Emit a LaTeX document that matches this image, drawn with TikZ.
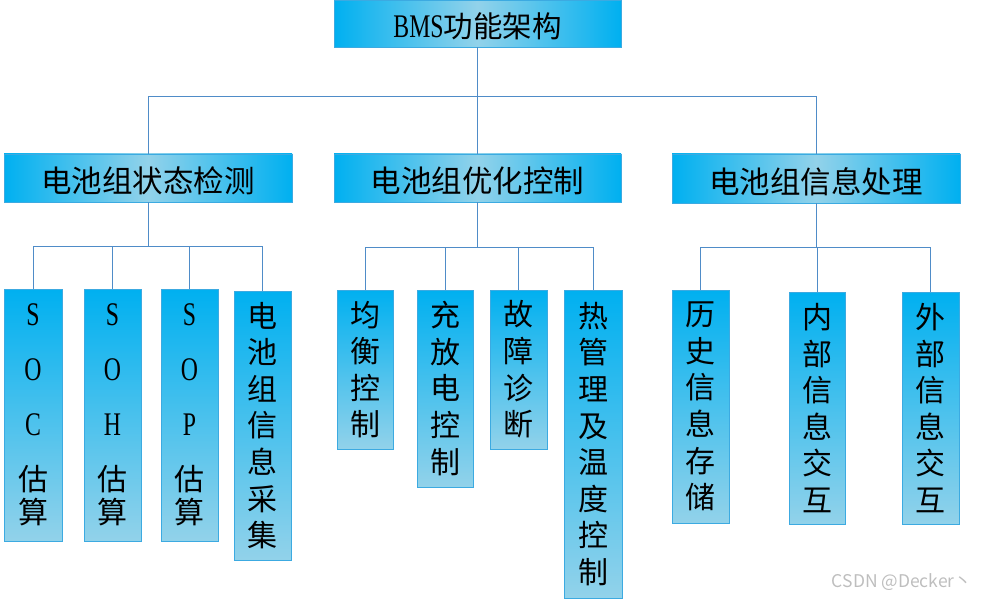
\documentclass[tikz,border=0pt]{standalone}
\usepackage{fontspec}
\setmainfont{Noto Sans CJK SC}
\newfontfamily\cjk{Noto Sans CJK SC}
\newfontfamily\lat[FakeStretch=0.72]{Liberation Serif}
\definecolor{cdark}{RGB}{0,176,240}
\definecolor{clight}{RGB}{146,210,234}
\definecolor{bordercol}{RGB}{60,170,225}
\definecolor{linecol}{RGB}{79,140,200}
\definecolor{wmcol}{RGB}{190,190,190}
\newcommand{\latl}[1]{{\fontsize{33pt}{33pt}\selectfont\lat #1}}
\newcommand{\lowr}[1]{\raisebox{-3pt}[\height][\depth]{#1}}
\tikzset{
  box/.style={rectangle, inner sep=0pt, draw=bordercol, line width=0.8pt, text=black},
  hbox/.style={box, left color=cdark, right color=cdark, middle color=clight},
  vbox/.style={box, top color=cdark, bottom color=clight, align=center},
  leaftext/.style={font=\fontsize{30pt}{36.6pt}\selectfont\cjk},
  soctext/.style={font=\fontsize{30pt}{33pt}\selectfont\cjk},
  midtext/.style={font=\fontsize{30.5pt}{32pt}\selectfont\cjk},
  conn/.style={draw=linecol, line width=0.8pt},
}
\begin{document}
\begin{tikzpicture}[x=1pt,y=-1pt]
\useasboundingbox (0,0) rectangle (983,599);
% top
\node[hbox, minimum width=287pt, minimum height=47pt, font=\fontsize{29.5pt}{32pt}\selectfont\cjk] (top) at (477.5,23.5) {\lowr{\latl{BMS}功能架构}};
% level 2
\node[hbox, midtext, minimum width=288pt, minimum height=48pt] (l2a) at (148,178) {\lowr{电池组状态检测}};
\node[hbox, midtext, minimum width=287pt, minimum height=48pt] (l2b) at (477.5,178) {\lowr{电池组优化控制}};
\node[hbox, midtext, minimum width=288pt, minimum height=49pt] (l2c) at (816,178.5) {\lowr{电池组信息处理}};
% leaves group a
\node[vbox, soctext, minimum width=58pt, minimum height=252pt] (soc) at (33,415) {\latl{S}\\[22pt]\latl{O}\\[22pt]\latl{C}\\[22pt]估\\算};
\node[vbox, soctext, minimum width=57pt, minimum height=252pt] (soh) at (112.5,415) {\latl{S}\\[22pt]\latl{O}\\[22pt]\latl{H}\\[22pt]估\\算};
\node[vbox, soctext, minimum width=57pt, minimum height=252pt] (sop) at (189.5,415) {\latl{S}\\[22pt]\latl{O}\\[22pt]\latl{P}\\[22pt]估\\算};
\node[vbox, leaftext, minimum width=57pt, minimum height=269pt] (cj) at (262.5,425.5) {电\\池\\组\\信\\息\\采\\集};
% leaves group b
\node[vbox, leaftext, minimum width=56pt, minimum height=159pt] (jh) at (365,369.5) {均\\衡\\控\\制};
\node[vbox, leaftext, minimum width=56pt, minimum height=197pt] (cf) at (445,388.5) {充\\放\\电\\控\\制};
\node[vbox, leaftext, minimum width=57pt, minimum height=159pt] (gz) at (518.5,369.5) {故\\障\\诊\\断};
\node[vbox, leaftext, minimum width=58pt, minimum height=308pt] (rg) at (593,444) {热\\管\\理\\及\\温\\度\\控\\制};
% leaves group c
\node[vbox, leaftext, minimum width=57pt, minimum height=233pt] (ls) at (700.5,406.5) {历\\史\\信\\息\\存\\储};
\node[vbox, leaftext, minimum width=56pt, minimum height=232pt] (nb) at (817,408) {内\\部\\信\\息\\交\\互};
\node[vbox, leaftext, minimum width=57pt, minimum height=232pt] (wb) at (930.5,408) {外\\部\\信\\息\\交\\互};
% buses
\coordinate (bus0) at (477.5,96);
\coordinate (busa) at (148,246);
\coordinate (busb) at (477.5,247);
\coordinate (busc) at (816,247);
% connectors
\draw[conn] (top.south) -- (bus0) -| (l2a.north);
\draw[conn] (bus0) -- (l2b.north);
\draw[conn] (bus0) -| (l2c.north);
\draw[conn] (l2a.south) -- (busa) -| (soc.north);
\draw[conn] (busa) -| (soh.north);
\draw[conn] (busa) -| (sop.north);
\draw[conn] (busa) -| (cj.north);
\draw[conn] (l2b.south) -- (busb) -| (jh.north);
\draw[conn] (busb) -| (cf.north);
\draw[conn] (busb) -| (gz.north);
\draw[conn] (busb) -| (rg.north);
\draw[conn] (l2c.south) -- (busc) -| (ls.north);
\draw[conn] (busc) -| (nb.north);
\draw[conn] (busc) -| (wb.north);
% watermark
\node[text=wmcol, font=\fontsize{17.5pt}{18pt}\selectfont\cjk, inner sep=0pt] (wm) at (902,582) {CSDN @Decker丶};
\end{tikzpicture}
\end{document}
